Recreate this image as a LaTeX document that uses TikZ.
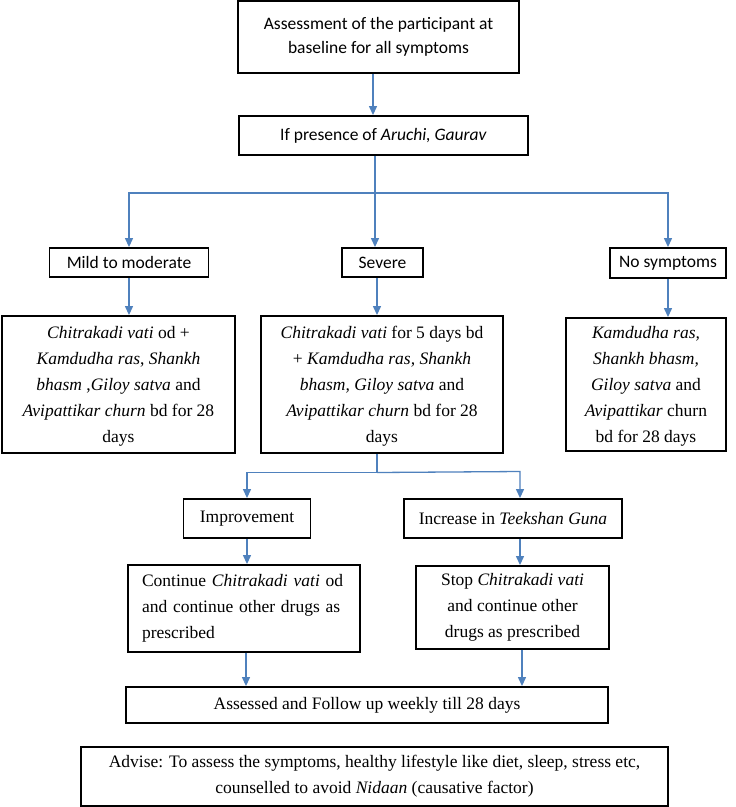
\documentclass[tikz,border=0pt]{standalone}
\usepackage{fontspec}
\setmainfont{Liberation Serif}
\newfontfamily\calibri{Carlito}
\usetikzlibrary{arrows.meta}
\definecolor{arrowblue}{RGB}{79,129,189}
\tikzset{
  box/.style={draw=black, line width=1.9pt, inner sep=0pt, align=center},
  cbox/.style={box, font=\calibri\fontsize{17.5}{24}\selectfont},
  tbox/.style={box, font=\fontsize{17.5}{26}\selectfont},
  arr/.style={draw=arrowblue, line width=1.3pt, -{Triangle[length=9pt,width=8pt]}},
  ln/.style={draw=arrowblue, line width=1.3pt}
}
\begin{document}
\begin{tikzpicture}[x=1pt,y=-1pt]
\useasboundingbox (0,0) rectangle (736,807);
\fill[white] (0,0) rectangle (736,807);
% top boxes
\node[cbox, minimum width=281, minimum height=72] (b1) at (378.5,37) {Assessment of the participant at\\baseline for all symptoms};
\node[cbox, minimum width=289, minimum height=39] (b2) at (383.5,135.5) {If presence of \textit{Aruchi, Gaurav}};
\node[cbox, minimum width=159, minimum height=29] (mild) at (129,262.5) {Mild to moderate};
\node[cbox, minimum width=81, minimum height=29] (sev) at (382.5,262.5) {Severe};
\node[cbox, minimum width=116, minimum height=30] (nos) at (668,263) {No symptoms};
% drug boxes
\node[tbox, minimum width=233, minimum height=137, text depth=0pt] (bl) at (118.5,384.5) {\textit{Chitrakadi vati} od +\\\textit{Kamdudha ras}, \textit{Shankh}\\\textit{bhasm} ,\textit{Giloy satva} and\\\textit{Avipattikar churn} bd for 28\\days};
\node[tbox, minimum width=242, minimum height=137, text depth=0pt] (bm) at (382,384.5) {\textit{Chitrakadi vati} for 5 days bd\\+ \textit{Kamdudha ras, Shankh}\\\textit{bhasm, Giloy satva} and\\\textit{Avipattikar churn} bd for 28\\days};
\node[tbox, minimum width=160, minimum height=133, text depth=0pt] (br) at (646,384.5) {\textit{Kamdudha ras,}\\\textit{Shankh bhasm,}\\\textit{Giloy satva} and\\\textit{Avipattikar} churn\\bd for 28 days};
% second level
\node[tbox, minimum width=127, minimum height=39] (imp) at (247,518.5) {Improvement};
\node[tbox, minimum width=218, minimum height=39] (inc) at (513,518.5) {Increase in \textit{Teekshan Guna}};
\node[tbox, minimum width=232, minimum height=87, align=left, text width=204] (cont) at (244,608.5) {Continue \textit{Chitrakadi vati} od\\and continue other drugs as\\prescribed};
\node[tbox, minimum width=193, minimum height=83] (stop) at (512.5,607.5) {Stop \textit{Chitrakadi vati}\\and continue other\\drugs as prescribed};
\node[tbox, minimum width=482, minimum height=36] (ass) at (367,705) {Assessed and Follow up weekly till 28 days};
\node[tbox, minimum width=587, minimum height=59] (adv) at (374.5,776.5) {Advise: To assess the symptoms, healthy lifestyle like diet, sleep, stress etc,\\counselled to avoid \textit{Nidaan} (causative factor)};
% connectors
\coordinate (a1) at (373,0);
\draw[arr] (b1.south -| a1) -- (b2.north -| a1);
\coordinate (j1) at (375,193);
\draw[arr] (b2.south -| j1) -- (sev.north -| j1);
\draw[arr] (j1) -| (mild.north);
\draw[arr] (j1) -| (nos.north);
\draw[arr] (mild.south) -- (mild.south |- bl.north);
\coordinate (a2) at (377,0);
\draw[arr] (sev.south -| a2) -- (bm.north -| a2);
\draw[arr] (nos.south) -- (nos.south |- br.north);
\coordinate (j2) at (377,472.5);
\coordinate (ia) at (520,471.5);
\draw[ln] (bm.south -| j2) -- (j2);
\draw[arr] (j2) -| (imp.north);
\draw[arr] (j2) -- (ia) -- (ia |- inc.north);
\draw[arr] (imp.south) -- (imp.south |- cont.north);
\draw[arr] (inc.south -| ia) -- (stop.north -| ia);
\coordinate (a3) at (246,0);
\coordinate (a4) at (522,0);
\draw[arr] (cont.south -| a3) -- (ass.north -| a3);
\draw[arr] (stop.south -| a4) -- (ass.north -| a4);
\end{tikzpicture}
\end{document}
